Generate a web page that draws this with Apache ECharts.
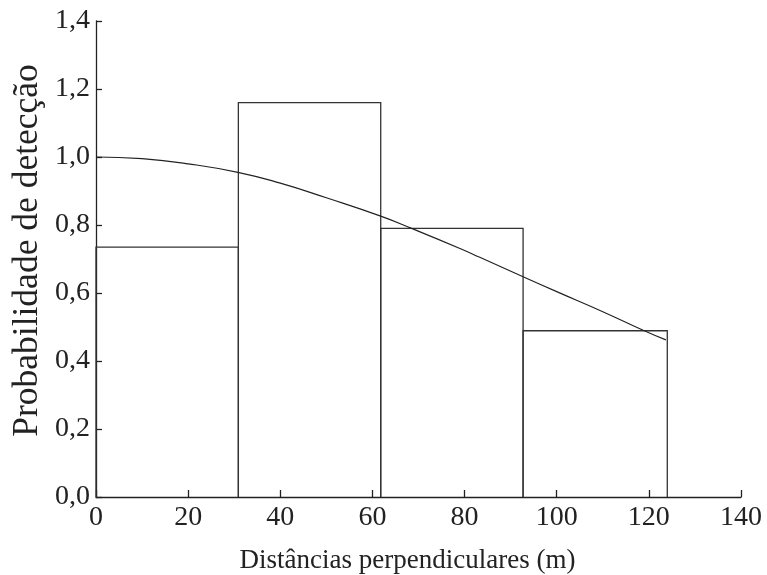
<!DOCTYPE html>
<html>
<head>
<meta charset="utf-8">
<script src="https://cdn.jsdelivr.net/npm/echarts@6/dist/echarts.min.js"></script>
<style>
html,body{margin:0;padding:0;background:#fff;}
#chart{width:767px;height:575px;}
</style>
</head>
<body>
<div id="chart"></div>
<script>
// Histogram bins (distance in m) and observed heights
var binEdges = [0, 30.9, 61.8, 92.7, 124.0];
var binHeights = [0.735, 1.16, 0.79, 0.489];
// Fitted detection curve
var curveX = [0, 10, 20, 30.8, 40, 50, 61.8, 68.5, 79, 83.3, 92.7, 100, 110, 119, 123.7];
var curveY = [1.0, 0.995, 0.98, 0.955, 0.923, 0.88, 0.826, 0.79, 0.731, 0.705, 0.648, 0.604, 0.545, 0.489, 0.462];
// Axis ticks
var xTicks = [0, 20, 40, 60, 80, 100, 120, 140];
var yTicks = [0, 0.2, 0.4, 0.6, 0.8, 1.0, 1.2, 1.4];

var barData = binHeights.map(function (h, i) { return [binEdges[i], binEdges[i + 1], h]; });
var curveData = curveX.map(function (x, i) { return [x, curveY[i]]; });

var font = 'Liberation Serif, Times New Roman, serif';
var chart = echarts.init(document.getElementById('chart'));
chart.setOption({
  animation: false,
  backgroundColor: '#fff',
  grid: { left: 96, right: 26, top: 21, bottom: 78, containLabel: false, outerBoundsMode: 'none' },
  xAxis: {
    type: 'value',
    min: xTicks[0], max: xTicks[xTicks.length - 1], interval: 20,
    name: 'Distâncias perpendiculares (m)',
    nameLocation: 'middle', nameGap: 50, nameMoveOverlap: false,
    nameTextStyle: { fontFamily: font, fontSize: 27, color: '#222', padding: [0, 22, 0, 0] },
    axisLine: { show: true, lineStyle: { color: '#222', width: 1.3 } },
    axisTick: { show: true, inside: true, length: 7, lineStyle: { color: '#222', width: 1.3 } },
    axisLabel: { fontFamily: font, fontSize: 28, color: '#222', margin: 7 },
    splitLine: { show: false }
  },
  yAxis: {
    type: 'value',
    min: yTicks[0], max: yTicks[yTicks.length - 1], interval: 0.2,
    name: 'Probabilidade de detecção',
    nameLocation: 'middle', nameGap: 50, nameMoveOverlap: false,
    nameTextStyle: { fontFamily: font, fontSize: 35.5, color: '#222', padding: [0, 0, 0, 17] },
    axisLine: { show: true, lineStyle: { color: '#222', width: 1.3 } },
    axisTick: { show: true, inside: true, length: 6, lineStyle: { color: '#222', width: 1.3 } },
    axisLabel: {
      fontFamily: font, fontSize: 28, color: '#222', margin: 6,
      formatter: function (v) { return v.toFixed(1).replace('.', ','); }
    },
    splitLine: { show: false }
  },
  series: [
    {
      type: 'custom',
      data: barData,
      renderItem: function (params, api) {
        var p0 = api.coord([api.value(0), 0]);
        var p1 = api.coord([api.value(1), api.value(2)]);
        return {
          type: 'polyline',
          shape: { points: [[p0[0], p0[1]], [p0[0], p1[1]], [p1[0], p1[1]], [p1[0], p0[1]]] },
          style: { stroke: '#333', lineWidth: 1.3, fill: null }
        };
      },
      z: 2
    },
    {
      type: 'line',
      data: curveData,
      smooth: true,
      showSymbol: false,
      symbol: 'none',
      lineStyle: { color: '#222', width: 1.2 },
      z: 3
    }
  ]
});
</script>
</body>
</html>
